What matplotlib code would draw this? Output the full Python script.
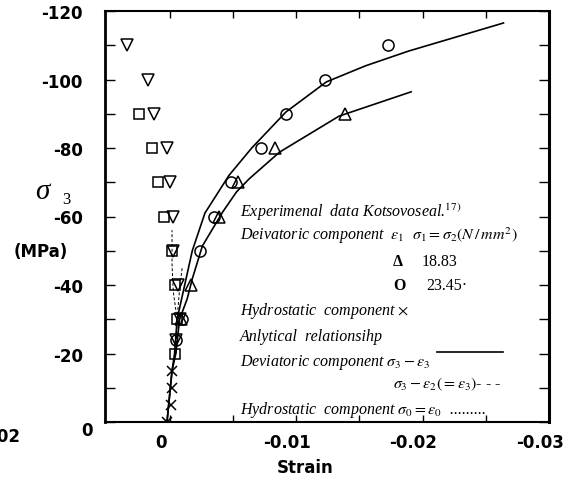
import matplotlib.pyplot as plt
import matplotlib.transforms as mtransforms

# ------ data ------
sq_strain = [0.0024, 0.0014, 0.0009, 0.0004, -0.0002, -0.0004, -0.0006, -0.0004]
sq_stress = [-90, -80, -70, -60, -50, -40, -30, -20]

tdn_strain = [0.0034, 0.0017, 0.0012, 0.0002, 0.0000, -0.0003, -0.0003, -0.0007, -0.0008, -0.0005]
tdn_stress = [-110, -100, -90, -80, -70, -60, -50, -40, -30, -24]

circ_strain = [-0.0173, -0.0123, -0.0092, -0.0072, -0.0049, -0.0035, -0.0024, -0.0010, -0.0005]
circ_stress = [-110, -100, -90, -80, -70, -60, -50, -30, -24]

tup_strain = [-0.0139, -0.0083, -0.0054, -0.0039, -0.0017, -0.0009]
tup_stress = [-90, -80, -70, -60, -40, -30]

cross_strain = [0.0002, -0.0001, -0.0002, -0.0002]
cross_stress = [0, -5, -10, -15]

# analytical curves
up_strain = [0.0002, -0.0002, -0.0004, -0.0006, -0.0012, -0.0018, -0.0028, -0.0047,
             -0.0065, -0.0092, -0.0124, -0.0155, -0.0189, -0.0264]
up_stress = [0, -15, -20, -30, -40, -50, -61, -72, -80, -90.5, -99.3, -104, -108.3, -116.5]
lo_strain = [0.0002, -0.0002, -0.0005, -0.0008, -0.0014, -0.0018, -0.0026, -0.0042,
             -0.0053, -0.0063, -0.0087, -0.0134, -0.0191]
lo_stress = [0, -15, -20, -30, -36, -41.8, -51.4, -61.3, -67.2, -71, -78.8, -89.3, -96.4]
d1_strain = [-0.0005, -0.0006, -0.0003, -0.0002, -0.0002]
d1_stress = [-20, -30, -38, -46, -56]
d2_strain = [-0.0005, -0.0006, -0.0008, -0.0010]
d2_stress = [-20, -30, -39, -45]

xticks = [0, -0.01, -0.02, -0.03]
xticklabels = ["0", "-0.01", "-0.02", "-0.03"]
yticks = [0, -20, -40, -60, -80, -100, -120]
yticklabels = ["0", "-20", "-40", "-60", "-80", "-100", "-120"]

# ------ plot ------
plt.rcParams['mathtext.fontset'] = 'stix'
W, H = 579, 489
fig = plt.figure(figsize=(W / 100, H / 100), dpi=100)
ax = fig.add_axes([105 / W, 1 - 423 / H, (549 - 105) / W, (423 - 12) / H])

ax.plot(up_strain, up_stress, color='black', lw=1.2)
ax.plot(lo_strain, lo_stress, color='black', lw=1.2)
ax.plot(d1_strain, d1_stress, color='black', lw=0.7, dashes=(3, 2))
ax.plot(d2_strain, d2_stress, color='black', lw=0.7, dashes=(3, 2))

mk = dict(ls='none', mfc='none', mec='black', mew=1.1)
ax.plot(sq_strain, sq_stress, marker='s', ms=7, **mk)
ax.plot(tdn_strain, tdn_stress, marker='v', ms=8, **mk)
ax.plot(circ_strain, circ_stress, marker='o', ms=8, **mk)
ax.plot(tup_strain, tup_stress, marker='^', ms=8, **mk)
ax.plot(cross_strain, cross_stress, marker='x', ms=7, **mk)

ax.set_xlim(0.0051, -0.0298)
ax.set_ylim(0, -120)
ax.set_xticks(xticks)
ax.set_xticks([-0.005, -0.015, -0.025], minor=True)
ax.set_xticklabels(xticklabels, fontsize=12, fontweight='bold')
ax.set_yticks(yticks)
ax.set_yticks([-10, -30, -50, -70, -90, -110], minor=True)
ax.set_yticklabels(yticklabels, fontsize=12, fontweight='bold')
ax.tick_params(axis='both', which='both', direction='in', top=True, right=True, width=1.0)
ax.tick_params(axis='y', which='both', length=7, pad=16)
ax.tick_params(axis='x', which='both', length=5, pad=8)
for s in ax.spines.values():
    s.set_linewidth(1.5)
ax.spines['right'].set_linewidth(2.2)
ax.spines['left'].set_linewidth(2.0)

# small shifts of tick labels as in the scan
for lab in ax.get_xticklabels():
    lab.set_transform(lab.get_transform() + mtransforms.ScaledTranslation(-9 / 100, 0, fig.dpi_scale_trans))
ylabs = ax.get_yticklabels()
ylabs[0].set_transform(ylabs[0].get_transform() + mtransforms.ScaledTranslation(10 / 100, -6 / 100, fig.dpi_scale_trans))

# cut-off label at the far left (cropped in the original scan)
fig.text(20 / W, 1 - 437 / H, "0.02", ha='right', va='center', fontsize=12, fontweight='bold')

# axis titles
fig.text(35 / W, 1 - 192 / H, "σ", ha='left', va='center', fontsize=21, style='italic', family='Liberation Serif')
fig.text(62 / W, 1 - 200 / H, "3", ha='left', va='center', fontsize=12, family='Liberation Serif')
fig.text(41 / W, 1 - 252 / H, "(MPa)", ha='center', va='center', fontsize=12, fontweight='bold')
fig.text(305 / W, 1 - 468 / H, "Strain", ha='center', va='center', fontsize=12, fontweight='bold')

# legend text block
tk = dict(ha='left', va='center', fontsize=11.5, style='italic', family='Liberation Serif')
fig.text(240 / W, 1 - 212 / H, r"Experimenal  data Kotsovoseal.$^{17)}$", **tk)
fig.text(240 / W, 1 - 236 / H, r"Deivatoric component  $\varepsilon_1$  $\sigma_1 = \sigma_2(N\,/\,mm^2)$", **tk)
fig.text(393 / W, 1 - 262 / H, "Δ", ha='left', va='center', fontsize=11.5, fontweight='bold', family='Liberation Serif')
fig.text(422 / W, 1 - 262 / H, "18.83", ha='left', va='center', fontsize=11.5, family='Liberation Serif')
fig.text(393 / W, 1 - 286 / H, "O", ha='left', va='center', fontsize=11.5, fontweight='bold', family='Liberation Serif')
fig.text(426 / W, 1 - 286 / H, "23.45·", ha='left', va='center', fontsize=11.5, family='Liberation Serif')
fig.text(240 / W, 1 - 311 / H, r"Hydrostatic  component $\times$", **tk)
fig.text(240 / W, 1 - 337 / H, "Anlytical  relationsihp", **tk)
fig.text(240 / W, 1 - 363 / H, r"Deviatoric component $\sigma_3-\varepsilon_3$", **tk)
fig.add_artist(plt.Line2D([437 / W, 503 / W], [1 - 353 / H, 1 - 353 / H], color='black', lw=1.2))
fig.text(393 / W, 1 - 384 / H, r"$\sigma_3-\varepsilon_2(=\varepsilon_3)$- - -", **tk)
fig.text(240 / W, 1 - 410 / H, r"Hydrostatic  component $\sigma_0=\varepsilon_0$  .........", **tk)

fig.savefig("out.png", dpi=100)
